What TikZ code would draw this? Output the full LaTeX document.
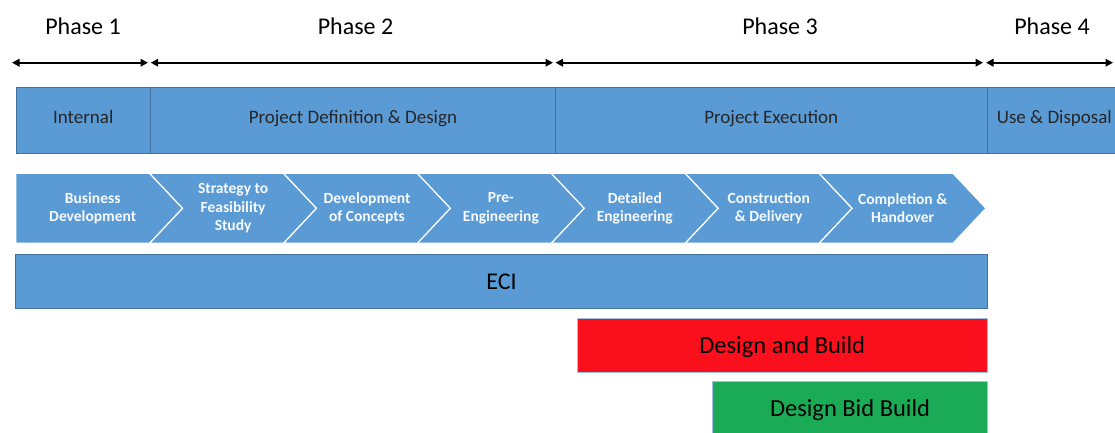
\documentclass[tikz,border=0pt]{standalone}
\usepackage{fontspec}
\setmainfont{Carlito}
\usetikzlibrary{arrows.meta,positioning}
\definecolor{barblue}{HTML}{5B9BD5}
\definecolor{edgeblue}{HTML}{41719C}
\definecolor{buildred}{HTML}{FA0F1C}
\definecolor{bidgreen}{HTML}{1BAA55}
\definecolor{lightedge}{HTML}{9DC3E6}
\tikzset{
  phasebar/.style={rectangle,draw=edgeblue,line width=0.8pt,fill=barblue,anchor=north west,inner sep=0pt,minimum height=66pt,text height=13pt,text depth=7pt,font=\fontsize{19}{21}\selectfont,text=black!85},
  stage/.style={fill=barblue,draw=white,line width=1.2pt},
  stagetext/.style={align=center,inner sep=0pt,font=\fontsize{15.5}{18.3}\selectfont\bfseries,text=white!95!barblue},
  methodbox/.style={rectangle,anchor=north west,inner sep=0pt,line width=0.8pt,text height=17pt,text depth=1pt,font=\fontsize{24.5}{26}\selectfont,text=black},
  span/.style={{Triangle[length=7.5pt,width=7.5pt]}-{Triangle[length=7.5pt,width=7.5pt]},line width=2pt,black},
  phaselabel/.style={anchor=base,inner sep=0pt,font=\fontsize{24}{26}\selectfont}
}

\begin{document}
\begin{tikzpicture}[x=1pt,y=-1pt]
  \useasboundingbox (0,0) rectangle (1115,432);
  \clip (0,0) rectangle (1115,432);

  % phase headings and their spans
  \node[phaselabel] (ph1) at (83,34) {Phase 1};
  \node[phaselabel] (ph2) at (355.5,34) {Phase 2};
  \node[phaselabel] (ph3) at (780,34) {Phase 3};
  \node[phaselabel] (ph4) at (1052,34) {Phase 4};
  \coordinate (s0) at (12,62.7);
  \coordinate (e0) at (148,62.7);
  \coordinate (s1) at (150.7,62.7);
  \coordinate (e1) at (553,62.7);
  \coordinate (s2) at (555.5,62.7);
  \coordinate (e2) at (983,62.7);
  \coordinate (s3) at (986,62.7);
  \coordinate (e3) at (1113,62.7);
  \draw[span] (s0) -- (e0);
  \draw[span] (s1) -- (e1);
  \draw[span] (s2) -- (e2);
  \draw[span] (s3) -- (e3);

  % lifecycle bar
  \node[phasebar,minimum width=134.3pt] (internal) at (15.7,86.7) {Internal};
  \node[phasebar,minimum width=405pt] (definition) at (150,86.7) {Project Definition \& Design};
  \node[phasebar,minimum width=431.7pt] (execution) at (555,86.7) {Project Execution};
  \node[phasebar,minimum width=134.5pt] (disposal) at (986.7,86.7) {Use \& Disposal};

  % chevron stages
  \foreach \lbl [count=\i from 0] in {{Business\\Development},{Strategy to\\Feasibility\\Study},{Development\\of Concepts},{Pre-\\Engineering},{Detailed\\Engineering},{Construction\\\& Delivery},{Completion \&\\Handover}} {
    \pgfmathsetmacro\xa{15.7+133.9*\i}
    \ifnum\i=0
      \filldraw[stage] (\xa,173.3) -- ({\xa+133.9},173.3) -- ({\xa+166.9},208.3) -- ({\xa+133.9},243.3) -- (\xa,243.3) -- cycle;
      \node[stagetext] (stage\i) at ({\xa+77},208.3) {\lbl};
    \else
      \filldraw[stage] (\xa,173.3) -- ({\xa+133.9},173.3) -- ({\xa+166.9},208.3) -- ({\xa+133.9},243.3) -- (\xa,243.3) -- ({\xa+33},208.3) -- cycle;
      \node[stagetext] (stage\i) at ({\xa+83.5},208.3) {\lbl};
    \fi
  }

  % procurement routes
  \node[methodbox,draw=edgeblue,fill=barblue,minimum width=972.3pt,minimum height=54pt,font=\fontsize{24}{26}\selectfont] (eci) at (15,254.3) {ECI};
  \node[methodbox,draw=lightedge,fill=buildred,minimum width=410.3pt,minimum height=53.4pt] (db) at (576.7,318.3) {Design and Build};
  \node[methodbox,draw=lightedge,fill=bidgreen,minimum width=274.7pt,minimum height=54pt] (dbb) at (712.3,381) {Design Bid Build};
\end{tikzpicture}
\end{document}
